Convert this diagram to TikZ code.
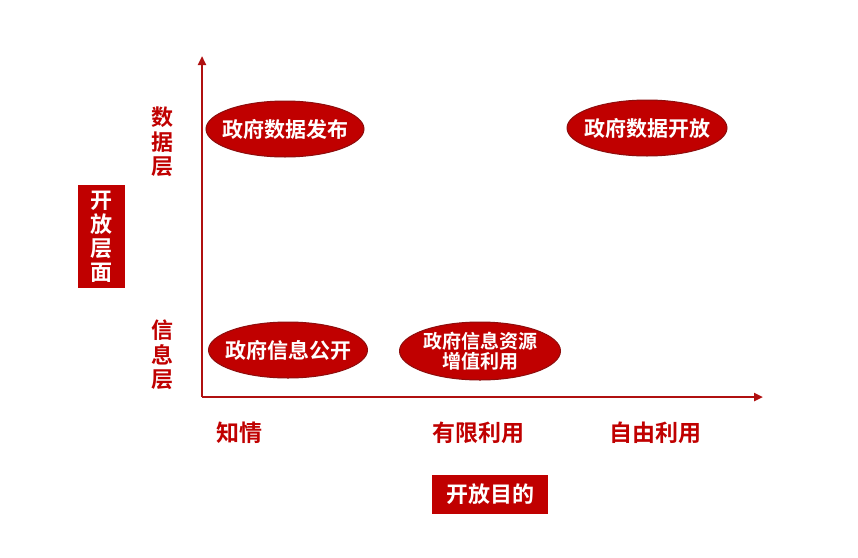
\documentclass[tikz,border=0pt]{standalone}
\usepackage{fontspec}
\newfontfamily\cjk{Noto Sans CJK SC}[BoldFont={Noto Sans CJK SC Bold}]
\usetikzlibrary{shapes.geometric,arrows.meta}
\definecolor{dred}{HTML}{C00000}
\definecolor{axred}{HTML}{B01010}
\begin{document}
\begin{tikzpicture}[x=1pt,y=-1pt,
  oval/.style={ellipse,fill=dred,draw=axred!80!black,line width=1pt,minimum width=#1,inner sep=0pt},
  ovaltext/.style={text=white,font=\cjk\bfseries\fontsize{21}{23}\selectfont,inner sep=0pt,align=center},
  ylab/.style={text=dred,font=\cjk\bfseries\fontsize{22}{24.5}\selectfont,align=center},
  xlab/.style={text=dred,font=\cjk\bfseries\fontsize{23}{25}\selectfont},
  tag/.style={fill=dred,text=white,font=\cjk\bfseries\fontsize{22}{24}\selectfont,align=center,inner sep=0pt},
  axis/.style={draw=axred,line width=2.6pt,-{Triangle[length=9pt,width=8pt]}}]
\useasboundingbox[fill=white] (0,0) rectangle (858,557);
\coordinate (O) at (202,397);
\coordinate (ytop) at (202,56);
\coordinate (xend) at (763,397);
\draw[axis] (O) -- (ytop);
\draw[axis] (O) -- (xend);
\node[oval=158pt,minimum height=56pt] (a) at (285,129) {};
\node[ovaltext] (at) at (a) {政府数据发布};
\node[oval=160pt,minimum height=56pt] (b) at (647,128) {};
\node[ovaltext] (bt) at (b) {政府数据开放};
\node[oval=159pt,minimum height=56pt] (c) at (288,350) {};
\node[ovaltext] (ct) at (c) {政府信息公开};
\node[oval=161pt,minimum height=58pt] (d) at (480,351) {};
\node[ovaltext,font=\cjk\bfseries\fontsize{19}{20}\selectfont] (dt) at (d) {政府信息资源\\增值利用};
\node[ylab] (l1) at (162,142) {数\\据\\层};
\node[ylab] (l2) at (162,355) {信\\息\\层};
\node[tag,minimum width=47pt,minimum height=103pt] (t1) at (101.5,236.5) {开\\放\\层\\面};
\node[xlab] (x1) at (239,433) {知情};
\node[xlab] (x2) at (478,433) {有限利用};
\node[xlab] (x3) at (655,433) {自由利用};
\node[tag,minimum width=116pt,minimum height=39pt] (t2) at (490,494.5) {开放目的};
\end{tikzpicture}
\end{document}
